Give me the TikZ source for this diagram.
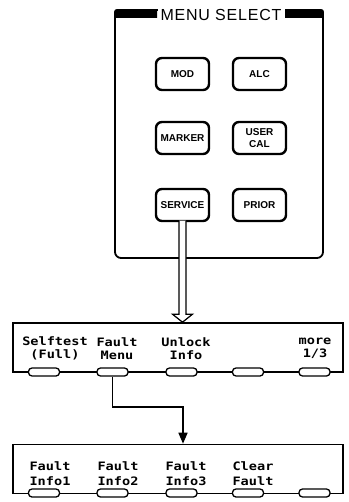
\documentclass[tikz,border=0pt]{standalone}
\usepackage{fontspec}
\setmainfont{Liberation Sans}
\newfontfamily\lcdfont{DejaVu Sans Mono Bold}[FakeStretch=1.17]
\newfontfamily\titlefont{Liberation Sans}[LetterSpace=5]
\usetikzlibrary{arrows.meta,calc}
\tikzset{
 panelbox/.style={draw, line width=1.8pt, rounded corners=6pt, minimum width=208pt, minimum height=248pt, inner sep=0pt},
 pbtn/.style={draw, line width=2.4pt, rounded corners=6pt, minimum width=53pt, minimum height=32pt, inner sep=0pt, fill=white, font=\bfseries\fontsize{10}{12}\selectfont, align=center},
 lcdbox/.style={draw, line width=1.6pt, minimum width=330pt, minimum height=49pt, inner sep=0pt},
 softkey/.style={draw, line width=1.3pt, fill=white, rounded corners=3.5pt, minimum width=31pt, minimum height=8pt, inner sep=0pt},
 lcdlabel/.style={font=\lcdfont\fontsize{11.6}{13.5}\selectfont, align=center, inner sep=0pt},
 lcdlabelb/.style={font=\lcdfont\fontsize{11.6}{15}\selectfont, align=center, inner sep=0pt},
 titlestyle/.style={fill=white, inner xsep=0pt, inner ysep=1.5pt, minimum width=127pt, font=\titlefont\fontsize{16}{16}\selectfont},
 bar/.style={fill=black},
 flow/.style={line width=1.6pt},
 hollow/.style={line width=1.2pt, fill=white, line join=miter},
}
\begin{document}
\begin{tikzpicture}[x=1pt,y=-1pt]
\useasboundingbox[fill=white] (0,0) rectangle (348,502);
% panel
\node[panelbox] (panel) at (219,134) {};
\fill[bar] (114.1,18) -- (114.1,15) .. controls (114.1,9.1) .. (120,9.1) -- (157,9.1) -- (157,18) -- cycle;
\fill[bar] (284,9.1) -- (318,9.1) .. controls (323.9,9.1) .. (323.9,15) -- (323.9,18) -- (284,18) -- cycle;
\node[titlestyle] (ttl) at (221,14.5) {MENU SELECT};
% buttons
\node[pbtn] (mod) at (182.5,74) {MOD};
\node[pbtn] (alc) at (259.5,74) {ALC};
\node[pbtn] (marker) at (182.5,138) {MARKER};
\node[pbtn] (usercal) at (259.5,138) {USER\\CAL};
\node[pbtn] (service) at (182.5,205) {SERVICE};
\node[pbtn] (prior) at (259.5,205) {PRIOR};
% first softkey menu
\node[lcdbox] (menu1) at (178,347.5) {};
\node[lcdlabel] (l11) at (55,348.5) {Selftest\\(Full)};
\node[lcdlabel] (l12) at (117,348.5) {Fault\\Menu};
\node[lcdlabel] (l13) at (186,348.5) {Unlock\\Info};
\node[lcdlabel] (l15) at (315,348.5) {more\\1/3};
\node[softkey] (k11) at (44,372) {};
\node[softkey] (k12) at (112.5,372) {};
\node[softkey] (k13) at (181.5,372) {};
\node[softkey] (k14) at (248,372) {};
\node[softkey] (k15) at (314.5,372) {};
% second softkey menu
\node[lcdbox] (menu2) at (178,469) {};
\node[lcdlabelb] (l21) at (50,473.5) {Fault\\Info1};
\node[lcdlabelb] (l22) at (118,473.5) {Fault\\Info2};
\node[lcdlabelb] (l23) at (186,473.5) {Fault\\Info3};
\node[lcdlabelb] (l24) at (253,473.5) {Clear\\Fault};
\node[softkey] (k21) at (44,493) {};
\node[softkey] (k22) at (112.5,493) {};
\node[softkey] (k23) at (181.5,493) {};
\node[softkey] (k24) at (248,493) {};
\node[softkey] (k25) at (314.5,493) {};
% hollow arrow SERVICE -> menu1
\coordinate (hs) at ($(service.south)+(0,-1.5)$);
\coordinate (ht) at (service.south |- menu1.north);
\draw[hollow] ($(hs)+(-3.5,0)$) -- ($(ht)+(-3.5,-8)$) -- ($(ht)+(-10,-8)$) -- (ht) -- ($(ht)+(10,-8)$) -- ($(ht)+(3.5,-8)$) -- ($(hs)+(3.5,0)$);
% Fault Menu -> menu2
\draw[flow, -{Triangle[width=9pt,length=11pt]}] (k12.south) |- ($(menu2.north)+(5,-37)$) -- ($(menu2.north)+(5,0)$);
\end{tikzpicture}
\end{document}
